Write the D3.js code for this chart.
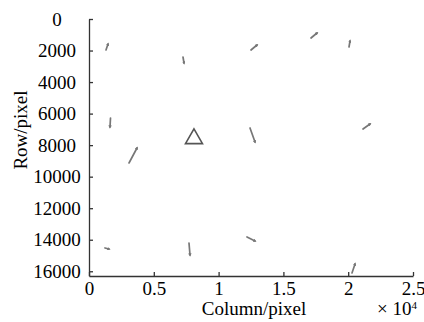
<!DOCTYPE html>
<html>
<head>
<meta charset="utf-8">
<script src="https://cdn.jsdelivr.net/npm/d3@7"></script>
<style>
  body { margin: 0; background: #fff; }
  svg { display: block; }
  text { font-family: "Liberation Serif", "Times New Roman", serif; fill: #000; }
</style>
</head>
<body>
<div id="graph"></div>
<script>
// short displacement segments, image pixel coords (start -> end)
const colStart = [1312, 7253, 12500, 17130, 20062, 12423, 21142, 1660, 3086, 1235, 7716, 12191, 20293];
const rowStart = [1966, 2410, 1966, 1205, 1776, 6913, 6976, 6279, 9132, 14523, 14206, 13826, 16109];
const colEnd   = [1466, 7330, 12963, 17593, 20139, 12809, 21682, 1620, 3704, 1543, 7793, 12809, 20525];
const rowEnd   = [1586, 2790, 1649, 888, 1395, 7801, 6659, 6849, 8181, 14587, 14967, 14079, 15538];
// reference target (triangle)
const targetCol = [8100];
const targetRow = [7590];
const xTicks = [0, 5000, 10000, 15000, 20000, 25000];
const yTicks = [0, 2000, 4000, 6000, 8000, 10000, 12000, 14000, 16000];

const W = 424, H = 322;
const mLeft = 89, mRight = 413, mTop = 19, mBottom = 276;

const svg = d3.select("#graph").append("svg")
  .attr("width", W).attr("height", H);

const x = d3.scaleLinear().domain([0, 25000]).range([mLeft, mRight]);
const y = d3.scaleLinear().domain([0, 16300]).range([mTop, mBottom]);

// small head, only really visible on the longer segment
svg.append("defs").append("marker")
  .attr("id", "head")
  .attr("viewBox", "0 0 10 10")
  .attr("refX", 5).attr("refY", 5)
  .attr("markerWidth", 2).attr("markerHeight", 2)
  .attr("orient", "auto")
  .append("path").attr("d", "M0,0L10,5L0,10z").attr("fill", "#777");

const segs = colStart.map((c, i) => ({c0: c, r0: rowStart[i], c1: colEnd[i], r1: rowEnd[i]}));

svg.append("g").selectAll("line")
  .data(segs).enter().append("line")
  .attr("x1", d => x(d.c0)).attr("y1", d => y(d.r0))
  .attr("x2", d => x(d.c1)).attr("y2", d => y(d.r1))
  .attr("stroke", "#777")
  .attr("stroke-width", 1.7)
  .attr("stroke-linecap", "round")
  .attr("marker-end", "url(#head)");

svg.append("g").selectAll("path")
  .data(targetCol.map((c, i) => ({c: c, r: targetRow[i]}))).enter().append("path")
  .attr("d", d3.symbol().type(d3.symbolTriangle).size(125))
  .attr("transform", d => "translate(" + x(d.c) + "," + y(d.r) + ")")
  .attr("fill", "none")
  .attr("stroke", "#555")
  .attr("stroke-width", 1.6);

// x axis
const gx = svg.append("g")
  .attr("transform", "translate(0," + mBottom + ")")
  .call(d3.axisBottom(x).tickValues(xTicks).tickFormat(d => d / 10000)
    .tickSizeInner(-4).tickSizeOuter(0).tickPadding(6));
gx.selectAll("text").style("font-size", "19px").attr("fill", "#000");

// y axis
const gy = svg.append("g")
  .attr("transform", "translate(" + mLeft + ",0)")
  .call(d3.axisLeft(y).tickValues(yTicks).tickFormat(d3.format("d"))
    .tickSizeInner(-4).tickSizeOuter(0));
gy.selectAll("text")
  .style("font-size", "19px")
  .attr("text-anchor", "middle")
  .attr("x", 57 - mLeft)
  .attr("fill", "#000");

svg.selectAll(".domain, .tick line").attr("stroke", "#333").attr("stroke-width", 1.3);

// labels
svg.append("text")
  .attr("x", 254).attr("y", 315)
  .attr("text-anchor", "middle")
  .style("font-size", "19px")
  .text("Column/pixel");

const mult = svg.append("text")
  .attr("x", 377).attr("y", 315)
  .style("font-size", "19px");
mult.append("tspan").text("\u00d7 10");
mult.append("tspan").attr("dy", -6).style("font-size", "11px").text("4");

svg.append("text")
  .attr("transform", "translate(27,130) rotate(-90)")
  .attr("text-anchor", "middle")
  .style("font-size", "19px")
  .text("Row/pixel");
</script>
</body>
</html>
